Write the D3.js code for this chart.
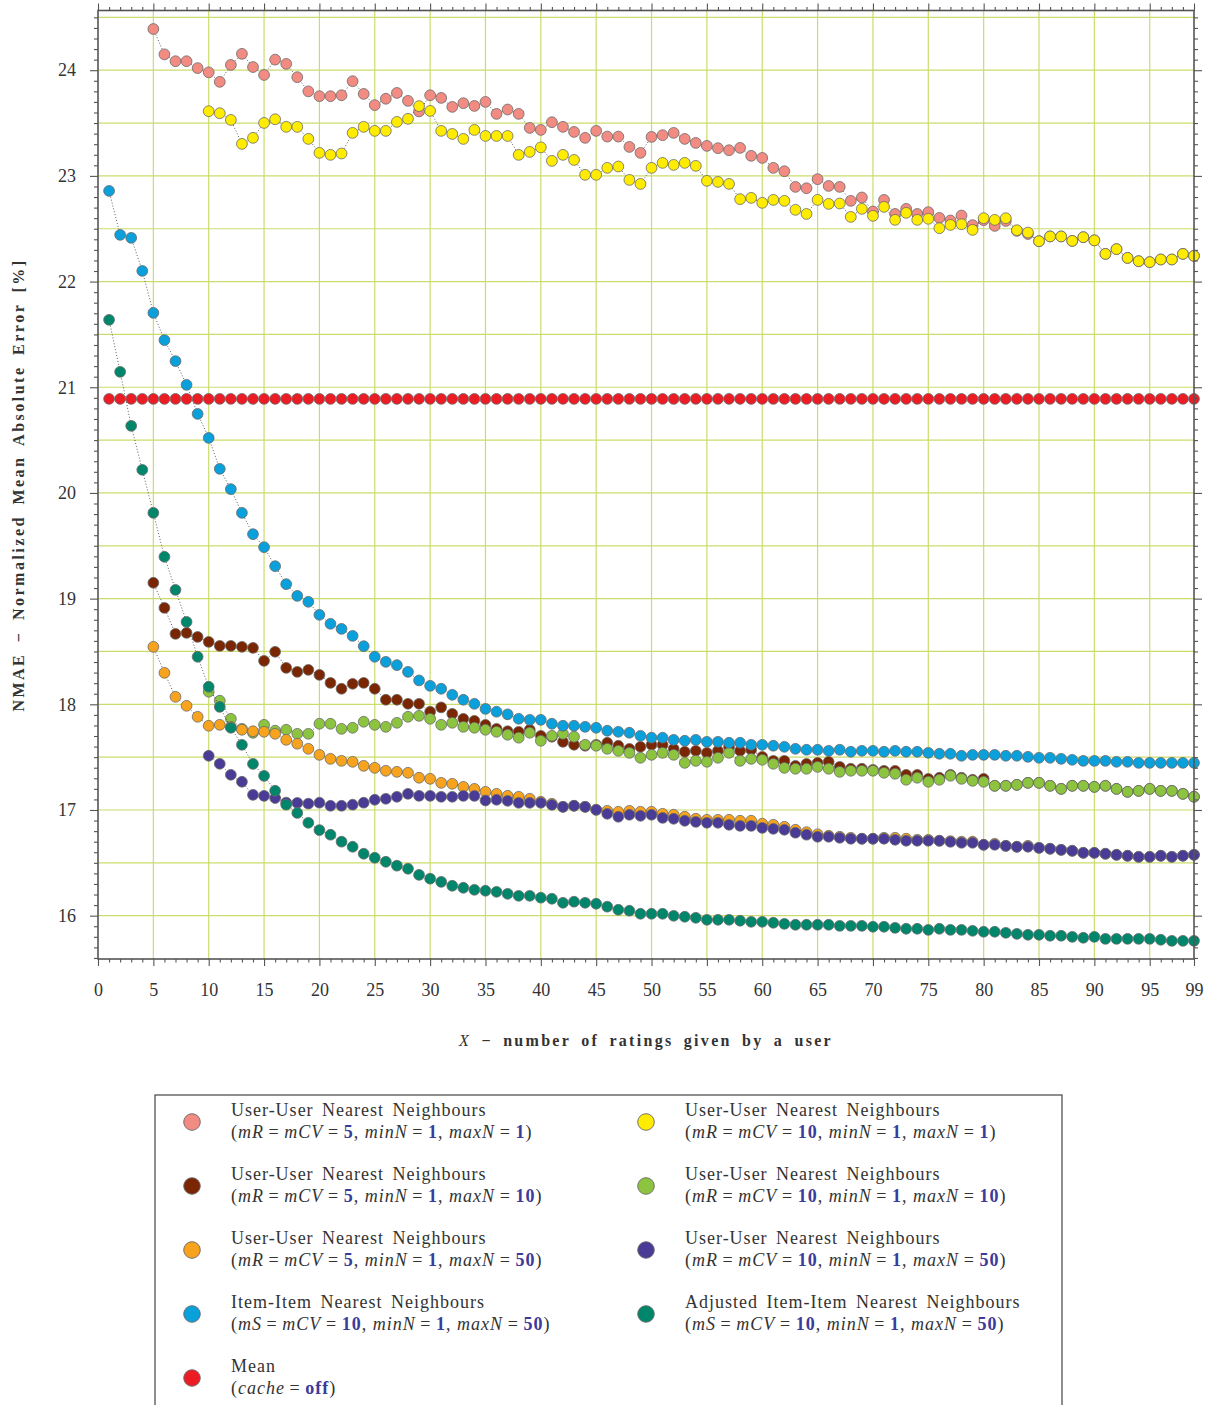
<!DOCTYPE html>
<html><head><meta charset="utf-8">
<script src="https://cdn.jsdelivr.net/npm/d3@7"></script>
<style>
body{margin:0;background:#fff;}
svg text{font-family:"Liberation Serif","DejaVu Serif",serif;}
</style></head>
<body><svg id="c" width="1215" height="1405"></svg>
<script>
// ---------- DATA ----------
const xTicksMajor = [0,5,10,15,20,25,30,35,40,45,50,55,60,65,70,75,80,85,90,95,99];
const yTicksMajor = [16,17,18,19,20,21,22,23,24];

// series: first x value, values for consecutive x
const uu5_1_start = 5;
const uu5_1 = [24.39,24.15,24.085,24.085,24.02,
 23.98,23.89,24.05,24.155,24.03,23.955,24.10,24.06,23.934,23.80,
 23.754,23.754,23.763,23.896,23.776,23.67,23.73,23.785,23.71,23.61,
 23.763,23.738,23.653,23.688,23.662,23.70,23.587,23.628,23.587,23.454,
 23.435,23.508,23.464,23.416,23.36,23.426,23.372,23.372,23.274,23.218,
 23.369,23.385,23.407,23.35,23.312,23.284,23.262,23.243,23.265,23.19,
 23.17,23.076,23.044,22.896,22.883,22.969,22.905,22.896,22.764,22.796,
 22.663,22.773,22.64,22.688,22.64,22.657,22.603,22.578,22.625,22.534,
 22.581,22.527,22.574,22.48,22.45,22.382,22.427,22.427,22.385,22.42,
 22.39,22.262,22.307,22.224,22.193,22.184,22.209,22.209,22.262,22.243];

const uu10_1_start = 10;
const uu10_1 = [23.612,23.593,23.53,23.303,23.36,23.501,23.536,23.464,23.464,23.35,
 23.218,23.199,23.212,23.407,23.464,23.426,23.426,23.511,23.54,23.66,
 23.615,23.426,23.397,23.35,23.435,23.378,23.378,23.378,23.199,23.227,
 23.27,23.142,23.199,23.151,23.01,23.01,23.076,23.089,22.962,22.924,
 23.076,23.123,23.104,23.123,23.095,22.953,22.943,22.924,22.78,22.792,
 22.745,22.773,22.764,22.679,22.64,22.773,22.735,22.739,22.612,22.688,
 22.622,22.707,22.584,22.65,22.584,22.594,22.505,22.536,22.543,22.489,
 22.6,22.584,22.6,22.486,22.464,22.382,22.427,22.427,22.385,22.42,
 22.39,22.262,22.307,22.224,22.193,22.184,22.209,22.209,22.262,22.243];

const uu5_10_start = 5;
const uu5_10 = [19.15,18.913,18.667,18.676,18.638,
 18.591,18.553,18.553,18.544,18.534,18.411,18.497,18.345,18.307,18.326,
 18.279,18.203,18.147,18.194,18.203,18.147,18.043,18.043,18.005,18.005,
 17.93,17.971,17.91,17.863,17.844,17.806,17.768,17.745,17.74,17.759,
 17.702,17.693,17.645,17.617,17.608,17.617,17.636,17.608,17.579,17.598,
 17.617,17.617,17.579,17.551,17.56,17.541,17.56,17.598,17.56,17.57,
 17.503,17.465,17.465,17.418,17.437,17.446,17.456,17.408,17.39,17.39,
 17.38,17.371,17.371,17.333,17.333,17.295,17.305,17.333,17.305,17.286,
 17.295,17.229,17.229,17.238,17.257,17.257,17.229,17.2,17.229,17.229,
 17.219,17.229,17.2,17.172,17.181,17.2,17.181,17.181,17.153,17.125];

const uu10_10_start = 10;
const uu10_10 = [18.119,18.034,17.863,17.768,17.73,17.806,17.75,17.759,17.721,17.721,
 17.816,17.816,17.768,17.778,17.835,17.806,17.787,17.825,17.882,17.891,
 17.863,17.806,17.825,17.787,17.778,17.759,17.74,17.712,17.684,17.731,
 17.655,17.702,17.721,17.693,17.617,17.608,17.579,17.56,17.541,17.494,
 17.522,17.541,17.522,17.446,17.465,17.456,17.494,17.541,17.465,17.484,
 17.475,17.437,17.399,17.39,17.39,17.408,17.39,17.361,17.371,17.371,
 17.371,17.352,17.343,17.286,17.305,17.267,17.286,17.324,17.295,17.276,
 17.267,17.229,17.229,17.238,17.257,17.257,17.229,17.2,17.229,17.229,
 17.219,17.229,17.2,17.172,17.181,17.2,17.181,17.181,17.153,17.125];

const uu5_50_start = 5;
const uu5_50 = [18.544,18.298,18.071,17.986,17.882,
 17.797,17.806,17.787,17.759,17.745,17.74,17.721,17.664,17.627,17.579,
 17.522,17.484,17.465,17.456,17.418,17.399,17.371,17.361,17.352,17.305,
 17.295,17.257,17.248,17.219,17.2,17.172,17.153,17.134,17.125,17.106,
 17.078,17.059,17.03,17.04,17.03,17.002,16.992,16.983,16.992,16.983,
 16.983,16.964,16.955,16.936,16.917,16.907,16.907,16.907,16.898,16.898,
 16.87,16.86,16.841,16.813,16.79,16.77,16.756,16.747,16.737,16.728,
 16.728,16.737,16.737,16.728,16.718,16.718,16.709,16.705,16.7,16.7,
 16.671,16.68,16.661,16.652,16.661,16.642,16.633,16.623,16.614,16.595,
 16.595,16.586,16.576,16.567,16.557,16.557,16.567,16.557,16.567,16.576];

const uu10_50_start = 10;
const uu10_50 = [17.513,17.437,17.333,17.267,17.143,17.134,17.113,17.07,17.067,17.06,
 17.069,17.04,17.04,17.05,17.069,17.097,17.106,17.125,17.153,17.134,
 17.134,17.125,17.125,17.134,17.134,17.09,17.097,17.087,17.068,17.068,
 17.068,17.049,17.03,17.04,17.03,17.002,16.964,16.936,16.955,16.945,
 16.955,16.926,16.917,16.898,16.888,16.879,16.879,16.86,16.85,16.85,
 16.831,16.822,16.813,16.785,16.766,16.747,16.747,16.737,16.728,16.728,
 16.728,16.728,16.718,16.709,16.709,16.709,16.709,16.699,16.69,16.69,
 16.671,16.671,16.661,16.652,16.652,16.642,16.633,16.623,16.614,16.595,
 16.595,16.586,16.576,16.567,16.557,16.557,16.567,16.557,16.567,16.576];

const item_start = 1;
const item = [22.858,22.442,22.414,22.101,21.704,21.446,21.247,21.023,20.748,
 20.521,20.228,20.036,19.812,19.61,19.487,19.307,19.137,19.026,18.97,
 18.847,18.762,18.714,18.648,18.55,18.45,18.402,18.371,18.307,18.226,
 18.175,18.147,18.09,18.043,18.005,17.957,17.93,17.905,17.863,17.853,
 17.853,17.816,17.797,17.797,17.787,17.778,17.75,17.74,17.731,17.702,
 17.684,17.684,17.664,17.655,17.664,17.645,17.645,17.636,17.636,17.617,
 17.617,17.608,17.598,17.579,17.57,17.57,17.56,17.57,17.551,17.56,
 17.56,17.551,17.56,17.551,17.551,17.541,17.532,17.532,17.513,17.522,
 17.522,17.522,17.513,17.513,17.503,17.494,17.494,17.484,17.475,17.465,
 17.465,17.465,17.456,17.456,17.446,17.446,17.446,17.446,17.446,17.446];

const adjItem_start = 1;
const adjItem = [21.638,21.146,20.635,20.219,19.812,19.396,19.083,18.78,18.45,
 18.166,17.976,17.778,17.617,17.436,17.323,17.182,17.05,16.972,16.879,
 16.81,16.766,16.7,16.652,16.586,16.548,16.51,16.473,16.444,16.386,
 16.35,16.32,16.283,16.264,16.245,16.236,16.226,16.207,16.188,16.188,
 16.17,16.16,16.122,16.132,16.122,16.113,16.085,16.056,16.047,16.018,
 16.018,16.018,15.999,15.99,15.98,15.961,15.961,15.961,15.952,15.942,
 15.942,15.933,15.923,15.914,15.914,15.914,15.914,15.904,15.904,15.904,
 15.895,15.895,15.885,15.876,15.876,15.866,15.876,15.866,15.866,15.857,
 15.848,15.848,15.838,15.828,15.819,15.819,15.81,15.81,15.8,15.791,
 15.8,15.781,15.781,15.781,15.781,15.781,15.772,15.762,15.762,15.762];

const mean_start = 1;
const mean = [20.89,20.89,20.89,20.89,20.89,20.89,20.89,20.89,20.89,
 20.89,20.89,20.89,20.89,20.89,20.89,20.89,20.89,20.89,20.89,
 20.89,20.89,20.89,20.89,20.89,20.89,20.89,20.89,20.89,20.89,
 20.89,20.89,20.89,20.89,20.89,20.89,20.89,20.89,20.89,20.89,
 20.89,20.89,20.89,20.89,20.89,20.89,20.89,20.89,20.89,20.89,
 20.89,20.89,20.89,20.89,20.89,20.89,20.89,20.89,20.89,20.89,
 20.89,20.89,20.89,20.89,20.89,20.89,20.89,20.89,20.89,20.89,
 20.89,20.89,20.89,20.89,20.89,20.89,20.89,20.89,20.89,20.89,
 20.89,20.89,20.89,20.89,20.89,20.89,20.89,20.89,20.89,20.89,
 20.89,20.89,20.89,20.89,20.89,20.89,20.89,20.89,20.89,20.89];

const seriesNames = ["uu5_1","uu10_1","uu5_10","uu10_10","uu5_50","uu10_50","item","adjItem","mean"];
const seriesTitles = ["User-User Nearest Neighbours","User-User Nearest Neighbours","User-User Nearest Neighbours",
  "User-User Nearest Neighbours","User-User Nearest Neighbours","User-User Nearest Neighbours",
  "Item-Item Nearest Neighbours","Adjusted Item-Item Nearest Neighbours","Mean"];
// parameters: [similarity var, mCV, minN, maxN]
const seriesParams = [["mR","5","1","1"],["mR","10","1","1"],["mR","5","1","10"],["mR","10","1","10"],
  ["mR","5","1","50"],["mR","10","1","50"],["mS","10","1","50"],["mS","10","1","50"],null];
const seriesColors = ["#f28b82","#ffec00","#7a2602","#8cc43f","#f8a31d","#4a3b97","#0aa0dc","#00876b","#ec1c24"];
const seriesData = [[uu5_1_start,uu5_1],[uu10_1_start,uu10_1],[uu5_10_start,uu5_10],[uu10_10_start,uu10_10],
  [uu5_50_start,uu5_50],[uu10_50_start,uu10_50],[item_start,item],[adjItem_start,adjItem],[mean_start,mean]];

// ---------- LAYOUT ----------
const svg = d3.select("#c");
svg.append("rect").attr("width",1215).attr("height",1405).attr("fill","#fff");
const L=98, R=1194, T=10.5, B=959;
const x = d3.scaleLinear().domain([0,99]).range([L,R]);
const y = d3.scaleLinear().domain([15.59,24.565]).range([B,T]);

const grid = svg.append("g");
const gridColor = "#cbdc6c";
grid.selectAll("line.v").data(d3.range(5,99,5)).join("line")
  .attr("x1",d=>x(d)).attr("x2",d=>x(d)).attr("y1",T).attr("y2",B)
  .attr("stroke",gridColor).attr("stroke-width",1.2);
grid.selectAll("line.h").data(d3.range(16,24.6,0.5)).join("line")
  .attr("y1",d=>y(d)).attr("y2",d=>y(d)).attr("x1",L).attr("x2",R)
  .attr("stroke",gridColor).attr("stroke-width",1.2);

// ---------- SERIES ----------
const plot = svg.append("g");
seriesData.forEach(([start,vals],i)=>{
  const pts = vals.map((v,k)=>({x:start+k, v}));
  const g = plot.append("g");
  g.append("path").datum(pts)
    .attr("d", d3.line().x(d=>x(d.x)).y(d=>y(d.v)))
    .attr("fill","none").attr("stroke","#333").attr("stroke-width",0.8)
    .attr("stroke-dasharray","1,2");
  g.selectAll("circle").data(pts).join("circle")
    .attr("cx",d=>x(d.x)).attr("cy",d=>y(d.v)).attr("r",5.4)
    .attr("fill",seriesColors[i]).attr("stroke","#6a6a6a").attr("stroke-width",0.8);
});

// ---------- AXES ----------
const axColor = "#555";
const isMajX = d => d%5===0 || d===99;
function styleAxis(g){
  g.attr("font-family",null);
  g.select(".domain").remove();
  g.selectAll(".tick line").attr("stroke",axColor).attr("stroke-width",1.1);
  g.selectAll(".tick text").attr("fill","#333").attr("font-size",18)
    .style("font-family","'Liberation Serif',serif");
}
const xt = d3.range(0,100);
const gB = svg.append("g").attr("transform",`translate(0,${B})`)
  .call(d3.axisBottom(x).tickValues(xt).tickSize(3).tickFormat(d=>isMajX(d)?d:""));
styleAxis(gB);
gB.selectAll(".tick line").attr("y2",d=>isMajX(d)?7:3.5);
gB.selectAll(".tick text").attr("y",24);
const gT = svg.append("g").attr("transform",`translate(0,${T})`)
  .call(d3.axisTop(x).tickValues(xt).tickFormat(""));
styleAxis(gT);
gT.selectAll(".tick line").attr("y2",d=>isMajX(d)?-7:-3.5);

const yt = d3.range(156,246).map(d=>d/10);
const isMajY = d => Math.abs(d-Math.round(d))<1e-6;
const gL = svg.append("g").attr("transform",`translate(${L},0)`)
  .call(d3.axisLeft(y).tickValues(yt).tickFormat(d=>isMajY(d)?d3.format("d")(d):""));
styleAxis(gL);
gL.selectAll(".tick line").attr("x2",d=>isMajY(d)?-8:-4);
gL.selectAll(".tick text").attr("x",-22);
const gR = svg.append("g").attr("transform",`translate(${R},0)`)
  .call(d3.axisRight(y).tickValues(yt).tickFormat(""));
styleAxis(gR);
gR.selectAll(".tick line").attr("x2",d=>isMajY(d)?8:4);

svg.append("rect").attr("x",L).attr("y",T).attr("width",R-L).attr("height",B-T)
  .attr("fill","none").attr("stroke",axColor).attr("stroke-width",1.6);

// ---------- TITLES ----------
svg.append("text").attr("transform","translate(24,485) rotate(-90)")
  .attr("text-anchor","middle").attr("font-size",16).attr("font-weight","bold")
  .attr("fill","#333").attr("letter-spacing",2.5).attr("word-spacing",4)
  .text("NMAE − Normalized Mean Absolute Error [%]");
const xtitle = svg.append("text").attr("x",646).attr("y",1046).attr("text-anchor","middle")
  .attr("font-size",16).attr("fill","#333").attr("letter-spacing",2.3).attr("word-spacing",4);
xtitle.append("tspan").attr("font-style","italic").text("X");
xtitle.append("tspan").attr("font-weight","bold").text(" − number of ratings given by a user");

// ---------- LEGEND ----------
const leg = svg.append("g");
leg.append("rect").attr("x",155).attr("y",1095).attr("width",907).attr("height",330)
  .attr("fill","#fff").attr("stroke","#444").attr("stroke-width",1.2);
const legOrderLeft = [0,2,4,6,8], legOrderRight = [1,3,5,7];
const EQ = "\u2009=\u2009";
function paramSegs(p){
  if(!p) return [["(",0],["cache",1],[EQ,0],["off",2],[")",0]];
  return [["(",0],[p[0],1],[EQ,0],["mCV",1],[EQ,0],[p[1],2],[", ",0],["minN",1],[EQ,0],[p[2],2],
          [", ",0],["maxN",1],[EQ,0],[p[3],2],[")",0]];
}
function legendEntry(si, col, row){
  const mx = col===0?192:646, tx = col===0?231:685, cy = 1122 + row*64;
  leg.append("circle").attr("cx",mx).attr("cy",cy).attr("r",8.3)
    .attr("fill",seriesColors[si]).attr("stroke","#666").attr("stroke-width",0.9);
  leg.append("text").attr("x",tx).attr("y",cy-6.5).attr("font-size",18).attr("fill","#333")
    .attr("letter-spacing",1.0).attr("word-spacing",3).text(seriesTitles[si]);
  const t = leg.append("text").attr("x",tx).attr("y",cy+15.5).attr("font-size",18).attr("fill","#333")
    .attr("letter-spacing",1.0);
  paramSegs(seriesParams[si]).forEach(([s,k])=>{
    const ts = t.append("tspan").text(s);
    if(k===1) ts.attr("font-style","italic");
    if(k===2) ts.attr("font-weight","bold").attr("fill","#3b3b9b");
  });
}
legOrderLeft.forEach((si,r)=>legendEntry(si,0,r));
legOrderRight.forEach((si,r)=>legendEntry(si,1,r));
</script></body></html>
